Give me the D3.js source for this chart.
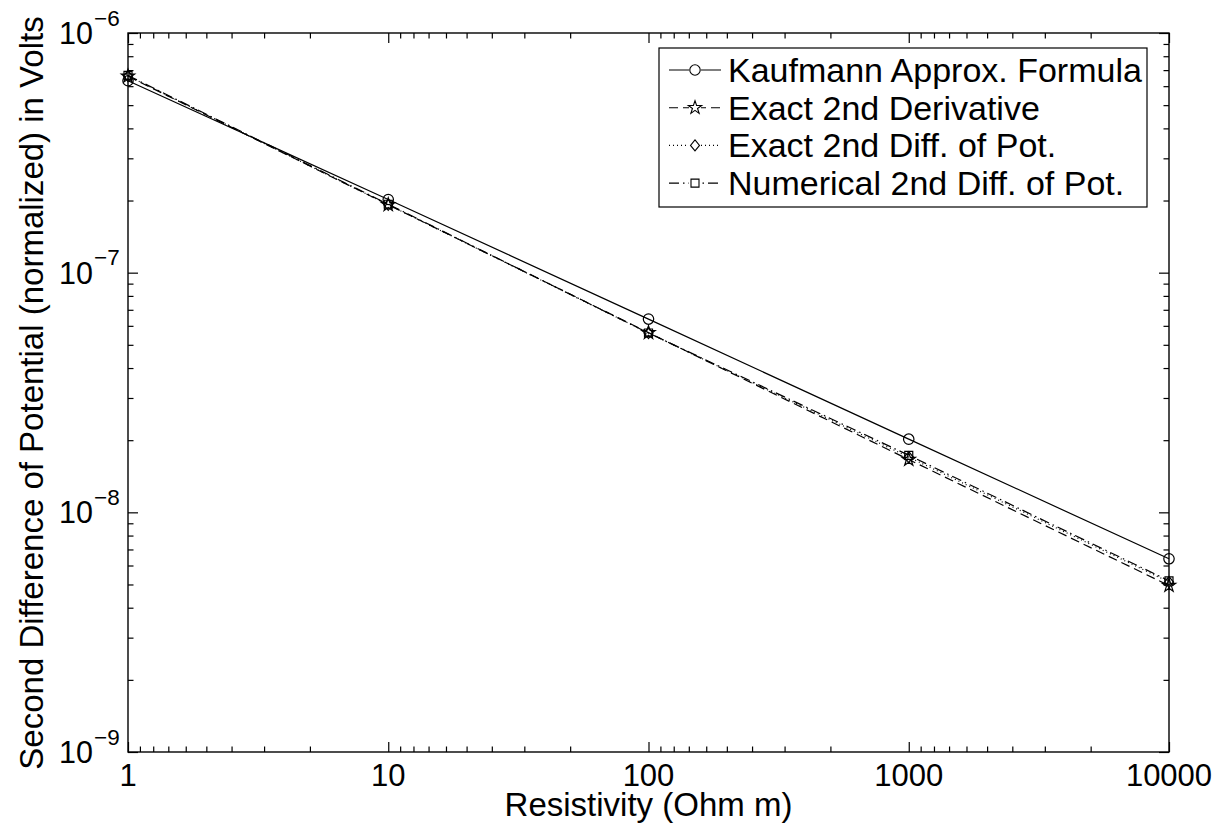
<!DOCTYPE html>
<html>
<head>
<meta charset="utf-8">
<script src="https://cdn.jsdelivr.net/npm/d3@7"></script>
<style>
html,body{margin:0;padding:0;background:#fff;}
svg{display:block;}
text{font-family:"Liberation Sans",Arial,Helvetica,sans-serif;fill:#000;}
</style>
</head>
<body>
<svg id="chart" width="1220" height="825"></svg>
<script>
// ---- data ----
const resistivity = [1, 10, 100, 1000, 10000];
const kaufmann    = [6.32e-7, 2.02e-7, 6.40e-8, 2.02e-8, 6.40e-9];
const exactDeriv  = [6.60e-7, 1.92e-7, 5.62e-8, 1.66e-8, 4.95e-9];
const exactDiff   = [6.62e-7, 1.92e-7, 5.60e-8, 1.70e-8, 5.12e-9];
const numerical   = [6.65e-7, 1.93e-7, 5.60e-8, 1.73e-8, 5.18e-9];
const seriesNames = ["Kaufmann Approx. Formula", "Exact 2nd Derivative", "Exact 2nd Diff. of Pot.", "Numerical 2nd Diff. of Pot."];
const xTickLabels = ["1", "10", "100", "1000", "10000"];
const yTickValues = [1e-9, 1e-8, 1e-7, 1e-6];
const yTickExps   = ["\u22129", "\u22128", "\u22127", "\u22126"];
const xTitle = "Resistivity (Ohm m)";
const yTitle = "Second Difference of Potential (normalized) in Volts";

const svg = d3.select("#chart");
const L = 128, R = 1169, T = 33, B = 752;
const x = d3.scaleLog().domain([1, 10000]).range([L, R]);
const y = d3.scaleLog().domain([1e-9, 1e-6]).range([B, T]);

// minor ticks
const xMinor = [];
for (let k = 0; k < 4; k++) for (let m = 2; m <= 9; m++) xMinor.push(Math.pow(10, k + 1) / m);
const yMinor = [];
for (let k = -9; k < -6; k++) for (let m = 2; m <= 9; m++) yMinor.push(m * Math.pow(10, k));

const MAJ = 10, MIN = 5.5;
function styleAxis(g){
  g.select(".domain").remove();
  g.selectAll("line").attr("stroke","#000").attr("stroke-width",1.2);
  g.selectAll("text").remove();
}
// bottom
svg.append("g").attr("transform",`translate(0,${B})`).call(d3.axisBottom(x).tickValues(resistivity).tickSize(-MAJ).tickFormat("")).call(styleAxis);
svg.append("g").attr("transform",`translate(0,${B})`).call(d3.axisBottom(x).tickValues(xMinor).tickSize(-MIN).tickFormat("")).call(styleAxis);
// top
svg.append("g").attr("transform",`translate(0,${T})`).call(d3.axisTop(x).tickValues(resistivity).tickSize(-MAJ).tickFormat("")).call(styleAxis);
svg.append("g").attr("transform",`translate(0,${T})`).call(d3.axisTop(x).tickValues(xMinor).tickSize(-MIN).tickFormat("")).call(styleAxis);
// left
svg.append("g").attr("transform",`translate(${L},0)`).call(d3.axisLeft(y).tickValues(yTickValues).tickSize(-MAJ).tickFormat("")).call(styleAxis);
svg.append("g").attr("transform",`translate(${L},0)`).call(d3.axisLeft(y).tickValues(yMinor).tickSize(-MIN).tickFormat("")).call(styleAxis);
// right
svg.append("g").attr("transform",`translate(${R},0)`).call(d3.axisRight(y).tickValues(yTickValues).tickSize(-MAJ).tickFormat("")).call(styleAxis);
svg.append("g").attr("transform",`translate(${R},0)`).call(d3.axisRight(y).tickValues(yMinor).tickSize(-MIN).tickFormat("")).call(styleAxis);

// box
svg.append("rect").attr("x",L).attr("y",T).attr("width",R-L).attr("height",B-T)
  .attr("fill","none").attr("stroke","#000").attr("stroke-width",1.4);

// tick labels
svg.append("g").selectAll("text").data(resistivity).join("text")
  .attr("x", d => x(d)).attr("y", B + 34).attr("text-anchor","middle")
  .attr("font-size",31).text((d,i) => xTickLabels[i]);
const yl = svg.append("g").selectAll("g").data(yTickValues).join("g");
yl.append("text").attr("x",93).attr("y",d => y(d) + 11).attr("text-anchor","end").attr("font-size",30.5).text("10");
yl.append("text").attr("x",94).attr("y",d => y(d) - 7.5).attr("text-anchor","start").attr("font-size",22.5).text((d,i) => yTickExps[i]);

// titles
svg.append("text").attr("x",(L+R)/2).attr("y",816).attr("text-anchor","middle").attr("font-size",33).text(xTitle);
svg.append("text").attr("transform",`translate(43,${393}) rotate(-90)`).attr("text-anchor","middle").attr("font-size",33).text(yTitle);

// series
const series = [
  {vals: kaufmann,   dash: null,        marker: "circle"},
  {vals: exactDeriv, dash: "9,5",       marker: "star"},
  {vals: exactDiff,  dash: "1,3",       marker: "diamond"},
  {vals: numerical,  dash: "10,4,1.5,4", marker: "square"}
];
const line = d3.line().x((d,i) => x(resistivity[i])).y(d => y(d));
const symPath = {
  circle: d3.symbol(d3.symbolCircle, 85)(),
  star: d3.symbol(d3.symbolStar, 55)(),
  diamond: "M0,-5.5L4.5,0L0,5.5L-4.5,0Z",
  square: d3.symbol(d3.symbolSquare, 64)()
};
const plot = svg.append("g");
series.forEach(s => {
  plot.append("path").attr("d", line(s.vals)).attr("fill","none").attr("stroke","#000")
    .attr("stroke-width",1.2).attr("stroke-dasharray", s.dash);
});
series.forEach(s => {
  plot.append("g").selectAll("path").data(s.vals).join("path")
    .attr("transform",(d,i) => `translate(${x(resistivity[i])},${y(d)})`)
    .attr("d", symPath[s.marker]).attr("fill","none").attr("stroke","#000").attr("stroke-width",1.2);
});

// legend
const lg = svg.append("g");
lg.append("rect").attr("x",659).attr("y",48).attr("width",488).attr("height",159)
  .attr("fill","#fff").attr("stroke","#000").attr("stroke-width",1.2);
series.forEach((s,i) => {
  const cy = 70 + i * 37.7;
  lg.append("line").attr("x1",669).attr("x2",721).attr("y1",cy).attr("y2",cy)
    .attr("stroke","#000").attr("stroke-width",1.1).attr("stroke-dasharray", s.dash);
  lg.append("rect").attr("x",689).attr("y",cy-6).attr("width",12).attr("height",12).attr("fill","#fff");
  lg.append("path").attr("transform",`translate(695,${cy})`).attr("d", symPath[s.marker])
    .attr("fill","none").attr("stroke","#000").attr("stroke-width",1.1);
  lg.append("text").attr("x",728).attr("y",cy + 12).attr("font-size",34).text(seriesNames[i]);
});
</script>
</body>
</html>
